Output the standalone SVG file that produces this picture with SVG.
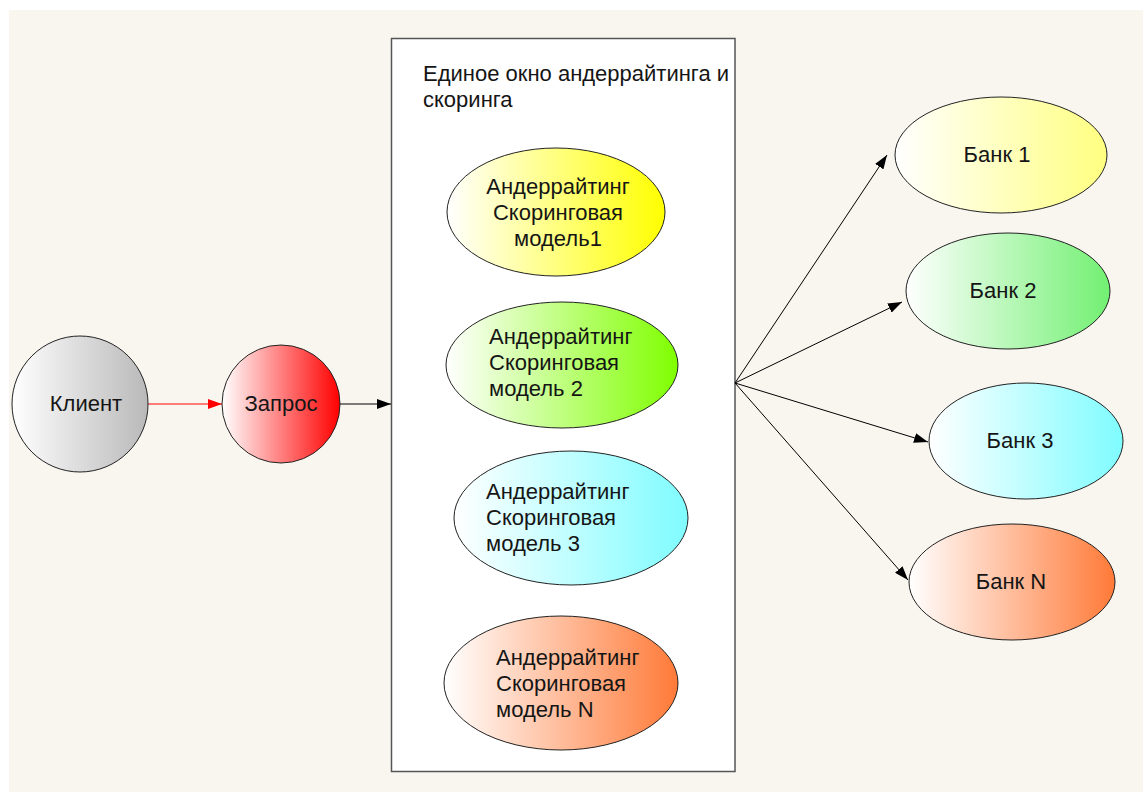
<svg xmlns="http://www.w3.org/2000/svg" width="1143" height="792" viewBox="0 0 1143 792">
<style>
.t{font-family:"Liberation Sans",Arial,sans-serif;font-size:22px;fill:#151515}
.n{stroke:#222;stroke-width:1}
.c{stroke:#000;stroke-width:1;fill:none}
</style>
<defs>
<linearGradient id="gGray"><stop offset="0" stop-color="#fff"/><stop offset="1" stop-color="#b9b9b9"/></linearGradient>
<linearGradient id="gRed"><stop offset="0" stop-color="#fff"/><stop offset="1" stop-color="#ff0000"/></linearGradient>
<linearGradient id="gYel"><stop offset="0" stop-color="#fff"/><stop offset="1" stop-color="#ffff00"/></linearGradient>
<linearGradient id="gGrn"><stop offset="0" stop-color="#fff"/><stop offset="1" stop-color="#7fff00"/></linearGradient>
<linearGradient id="gCyn"><stop offset="0" stop-color="#fff"/><stop offset="1" stop-color="#7ffcff"/></linearGradient>
<linearGradient id="gOrg"><stop offset="0" stop-color="#fff"/><stop offset="1" stop-color="#ff7a38"/></linearGradient>
<linearGradient id="gYel2"><stop offset="0" stop-color="#fff"/><stop offset="1" stop-color="#ffff80"/></linearGradient>
<linearGradient id="gGrn2"><stop offset="0" stop-color="#fff"/><stop offset="1" stop-color="#72f072"/></linearGradient>
<marker id="ah" viewBox="0 0 14 10" refX="14" refY="5" markerWidth="14" markerHeight="10" markerUnits="userSpaceOnUse" orient="auto"><path d="M0,0 L14,5 L0,10 Z" fill="#000"/></marker>
<marker id="ahr" viewBox="0 0 14 10" refX="14" refY="5" markerWidth="14" markerHeight="10" markerUnits="userSpaceOnUse" orient="auto"><path d="M0,0 L14,5 L0,10 Z" fill="#ff0000"/></marker>
</defs>
<rect x="0" y="0" width="1143" height="792" fill="#fff"/>
<rect x="9" y="10" width="1134" height="782" fill="#f9f6f0"/>
<g id="window">
<rect x="391.5" y="38.5" width="343.5" height="733" fill="#fff" stroke="#555" stroke-width="1.5"/>
<text class="t" x="423" y="81">Единое окно андеррайтинга и</text>
<text class="t" x="423" y="107">скоринга</text>
</g>
<g id="connectors">
<line x1="148" y1="404" x2="222" y2="404" stroke="#ff0000" stroke-width="1" marker-end="url(#ahr)"/>
<line class="c" x1="340" y1="404" x2="391" y2="404" marker-end="url(#ah)"/>
<line class="c" x1="735" y1="383" x2="887" y2="155" marker-end="url(#ah)"/>
<line class="c" x1="735" y1="383" x2="902" y2="302" marker-end="url(#ah)"/>
<line class="c" x1="735" y1="383" x2="928" y2="442" marker-end="url(#ah)"/>
<line class="c" x1="735" y1="383" x2="908" y2="580" marker-end="url(#ah)"/>
</g>
<g id="client">
<circle class="n" cx="80" cy="404" r="68" fill="url(#gGray)"/>
<text class="t" x="86" y="411" text-anchor="middle">Клиент</text>
</g>
<g id="request">
<circle class="n" cx="281" cy="404" r="59" fill="url(#gRed)"/>
<text class="t" x="281" y="411" text-anchor="middle">Запрос</text>
</g>
<g id="model1">
<ellipse class="n" cx="556" cy="212" rx="109" ry="64" fill="url(#gYel)"/>
<text class="t" text-anchor="middle"><tspan x="558" y="194">Андеррайтинг</tspan><tspan x="558" y="220">Скоринговая</tspan><tspan x="558" y="246">модель1</tspan></text>
</g>
<g id="model2">
<ellipse class="n" cx="562" cy="365" rx="116" ry="63" fill="url(#gGrn)"/>
<text class="t"><tspan x="489" y="344">Андеррайтинг</tspan><tspan x="489" y="370">Скоринговая</tspan><tspan x="489" y="396">модель 2</tspan></text>
</g>
<g id="model3">
<ellipse class="n" cx="571" cy="518" rx="117" ry="67" fill="url(#gCyn)"/>
<text class="t"><tspan x="486" y="499">Андеррайтинг</tspan><tspan x="486" y="525">Скоринговая</tspan><tspan x="486" y="551">модель 3</tspan></text>
</g>
<g id="modelN">
<ellipse class="n" cx="561" cy="683" rx="117" ry="67" fill="url(#gOrg)"/>
<text class="t"><tspan x="496" y="665">Андеррайтинг</tspan><tspan x="496" y="691">Скоринговая</tspan><tspan x="496" y="717">модель N</tspan></text>
</g>
<g id="bank1">
<ellipse class="n" cx="1001" cy="155" rx="106" ry="58" fill="url(#gYel2)"/>
<text class="t" x="997" y="162" text-anchor="middle">Банк 1</text>
</g>
<g id="bank2">
<ellipse class="n" cx="1008" cy="291" rx="102" ry="58" fill="url(#gGrn2)"/>
<text class="t" x="1003" y="298" text-anchor="middle">Банк 2</text>
</g>
<g id="bank3">
<ellipse class="n" cx="1026" cy="441" rx="97" ry="58" fill="url(#gCyn)"/>
<text class="t" x="1020" y="448" text-anchor="middle">Банк 3</text>
</g>
<g id="bankN">
<ellipse class="n" cx="1012" cy="582" rx="103" ry="58" fill="url(#gOrg)"/>
<text class="t" x="1011" y="589" text-anchor="middle">Банк N</text>
</g>
</svg>
